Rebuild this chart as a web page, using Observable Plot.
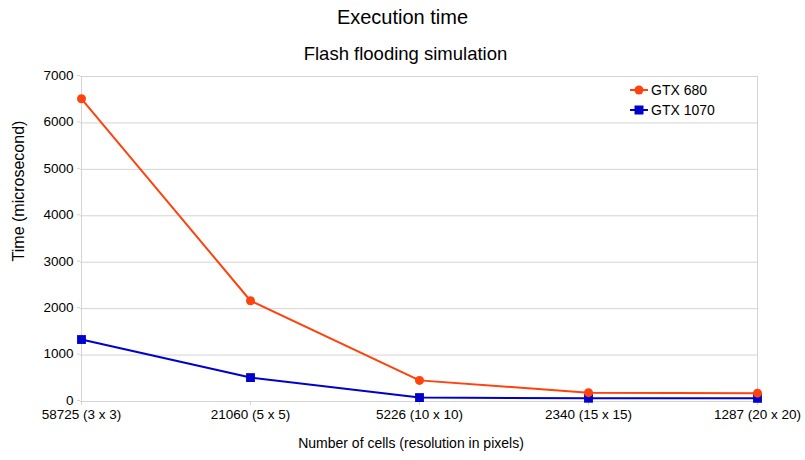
<!DOCTYPE html>
<html>
<head>
<meta charset="utf-8">
<script src="https://cdn.jsdelivr.net/npm/d3@7"></script>
<script src="https://cdn.jsdelivr.net/npm/@observablehq/plot@0.6"></script>
<style>
  body { margin: 0; background: #fff; font-family: "Liberation Sans", Arial, sans-serif; }
  #wrap { position: relative; width: 805px; height: 460px; }
  .t { position: absolute; left: 0; width: 805px; text-align: center; color: #000; line-height: 1; }
  #legend { position: absolute; left: 629px; top: 80px; font-size: 14px; }
  #legend .item { display: flex; align-items: center; height: 20px; }
  #legend svg { margin-right: 2px; }
  #ylab { position: absolute; left: 19px; top: 191px; transform: translate(-50%, -50%) rotate(-90deg); font-size: 16px; white-space: nowrap; line-height: 1; }
  #xlab { position: absolute; left: 0; width: 822px; text-align: center; top: 436px; font-size: 14px; line-height: 1; }
</style>
</head>
<body>
<div id="wrap">
  <div id="chart"></div>
  <div class="t" style="top:7px;font-size:20px;">Execution time</div>
  <div class="t" style="top:45px;font-size:18.5px;left:3px;">Flash flooding simulation</div>
  <div id="ylab">Time (microsecond)</div>
  <div id="xlab">Number of cells (resolution in pixels)</div>
  <div id="legend"></div>
</div>
<script>
const categories = ["58725 (3 x 3)", "21060 (5 x 5)", "5226 (10 x 10)", "2340 (15 x 15)", "1287 (20 x 20)"];
const gtx680 = [6520, 2170, 455, 190, 180];
const gtx1070 = [1335, 515, 85, 70, 68];
const seriesNames = ["GTX 680", "GTX 1070"];
const yTicks = [0, 1000, 2000, 3000, 4000, 5000, 6000, 7000];
const colors = {"GTX 680": "#ff420e", "GTX 1070": "#0000cc"};

const data = [];
categories.forEach((c, i) => {
  data.push({cat: c, series: "GTX 680", value: gtx680[i]});
  data.push({cat: c, series: "GTX 1070", value: gtx1070[i]});
});
const d680 = data.filter(d => d.series === "GTX 680");
const d1070 = data.filter(d => d.series === "GTX 1070");

const chart = Plot.plot({
  width: 805,
  height: 460,
  marginLeft: 80,
  marginRight: 48,
  marginTop: 76,
  marginBottom: 59,
  style: {fontFamily: "Liberation Sans, Arial, sans-serif", fontSize: "13.5px", color: "#000", background: "#fff"},
  x: {type: "point", domain: categories, padding: 0, label: null},
  y: {domain: [0, 7000], ticks: yTicks, label: null},
  marks: [
    Plot.ruleY(yTicks, {stroke: "#d4d4d4", strokeWidth: 1}),
    Plot.ruleX([categories[0], categories[categories.length - 1]], {stroke: "#d4d4d4", strokeWidth: 1}),
    Plot.axisY({ticks: yTicks, tickFormat: d3.format("d"), tickSize: 3, tickPadding: 4, dy: -1, stroke: "#d4d4d4", fill: "#000", fontSize: 13.5, label: null}),
    Plot.axisX({tickSize: 4, tickPadding: 4, stroke: "#d4d4d4", fill: "#000", fontSize: 13.5, label: null}),
    Plot.line(d1070, {x: "cat", y: "value", stroke: colors["GTX 1070"], strokeWidth: 2}),
    Plot.line(d680, {x: "cat", y: "value", stroke: colors["GTX 680"], strokeWidth: 2}),
    Plot.dot(d1070, {x: "cat", y: "value", symbol: "square", r: 5, fill: colors["GTX 1070"], stroke: "none"}),
    Plot.dot(d680, {x: "cat", y: "value", symbol: "circle", r: 4.5, fill: colors["GTX 680"], stroke: "none"})
  ]
});
document.getElementById("chart").appendChild(chart);

const leg = document.getElementById("legend");
seriesNames.forEach(name => {
  const marker = name === "GTX 680"
    ? `<circle cx="10" cy="6" r="4.5" fill="${colors[name]}"/>`
    : `<rect x="5.5" y="1.5" width="9" height="9" fill="${colors[name]}"/>`;
  const item = document.createElement("div");
  item.className = "item";
  item.innerHTML = `<svg width="20" height="12"><line x1="1" x2="19" y1="6" y2="6" stroke="${colors[name]}" stroke-width="2"/>${marker}</svg><span>${name}</span>`;
  leg.appendChild(item);
});
</script>
</body>
</html>
